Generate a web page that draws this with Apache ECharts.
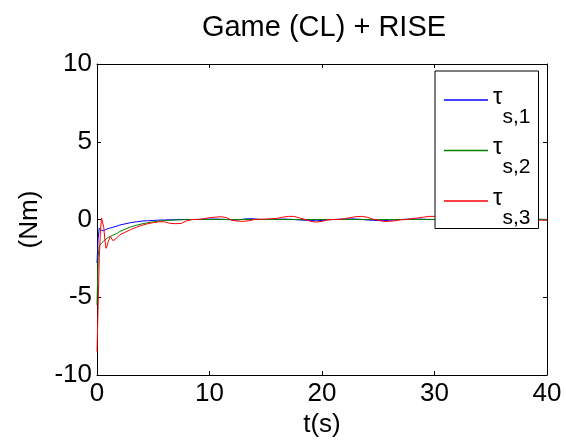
<!DOCTYPE html>
<html>
<head>
<meta charset="utf-8">
<script src="https://cdn.jsdelivr.net/npm/echarts@6/dist/echarts.min.js"></script>
<style>
  html, body { margin: 0; padding: 0; background: #fff; }
  #chart { width: 566px; height: 444px; }
</style>
</head>
<body>
<div id="chart"></div>
<script>
// time samples (s)
const tSec = [
  0, 0.1, 0.2, 0.3, 0.4, 0.5, 0.6, 0.7, 0.8, 0.9, 1, 1.2, 1.4, 1.6, 1.8,
  2, 2.5, 3, 3.5, 4, 4.5, 5, 5.5, 6, 6.5,
  7, 7.5, 8, 8.5, 9, 9.5, 10, 10.5, 11, 11.5,
  12, 12.5, 13, 13.5, 14, 14.5, 15, 15.5, 16, 16.5,
  17, 17.5, 18, 18.5, 19, 19.5, 20, 20.5, 21, 21.5,
  22, 22.5, 23, 23.5, 24, 24.5, 25, 25.5, 26, 26.5,
  27, 27.5, 28, 28.5, 29, 29.5, 30, 30.5, 31, 31.5,
  32, 32.5, 33, 33.5, 34, 34.5, 35, 35.5, 36, 36.5,
  37, 37.5, 38, 38.5, 39, 39.5, 40
];
// tau_s,1
const tauS1 = [
  -2.8, -1.2, -0.55, -0.45, -0.7, -0.8, -0.72, -0.68, -0.64, -0.61, -0.58, -0.54, -0.5, -0.46, -0.42,
  -0.36, -0.28, -0.2, -0.15, -0.1, -0.08, -0.06, -0.04, -0.03, -0.02,
  -0.01, 0, 0, 0, 0.01, 0.02, 0.03, 0.03, 0.02, 0,
  -0.02, -0.03, 0.02, 0.05, 0.04, 0, 0, 0.01, 0.02, 0.03,
  0.02, 0, -0.03, -0.05, -0.07, -0.08, -0.06, -0.02, 0, 0.02,
  0.03, 0.04, 0.03, 0.01, -0.03, -0.05, -0.07, -0.07, -0.05, -0.02,
  0, 0.02, 0.03, 0.03, 0.02, 0.01, 0, 0.02, 0.03, 0.02,
  0, -0.02, -0.03, -0.02, 0, 0.02, 0.03, 0.02, 0, -0.02,
  -0.03, -0.02, 0, 0.02, 0.02, 0.01, 0
];
// tau_s,2
const tauS2 = [
  -5.5, -2.4, -1.7, -1.6, -1.52, -1.45, -1.38, -1.32, -1.26, -1.2, -1.15, -1.08, -1.01, -0.95, -0.89,
  -0.78, -0.62, -0.48, -0.37, -0.28, -0.21, -0.15, -0.1, -0.07, -0.05,
  -0.03, -0.02, -0.01, 0, 0, 0, 0, 0, 0, 0,
  0, 0, 0, 0, 0, 0, 0, 0, 0, 0,
  0, 0, 0, 0, 0, 0, 0, 0, 0, 0,
  0, 0, 0, 0, 0, 0, 0, 0, 0, 0,
  0, 0, 0, 0, 0, 0, 0, 0, 0, 0,
  0, 0, 0, 0, 0, 0, 0, 0, 0, 0,
  0, 0, 0, 0, 0, 0, 0
];
// tau_s,3
const tauS3 = [
  -8.5, -5.5, -2.5, -0.8, 0.1, 0.2, -0.5, -1.3, -1.85, -1.7, -1.4, -1.1, -1.35, -1.3, -1.15,
  -1.0, -0.82, -0.65, -0.5, -0.37, -0.27, -0.2, -0.15, -0.15, -0.25,
  -0.27, -0.25, -0.08, 0, 0, 0.05, 0.12, 0.15, 0.18, 0.12,
  -0.05, -0.1, -0.12, -0.08, 0, 0.02, 0.03, 0.05, 0.07, 0.15,
  0.2, 0.2, 0.1, 0, -0.12, -0.17, -0.12, -0.02, 0, 0,
  0.05, 0.12, 0.18, 0.2, 0.15, 0.03, -0.05, -0.12, -0.12, -0.08,
  -0.02, 0, 0.05, 0.1, 0.15, 0.2, 0.2, 0.12, 0.02, -0.05,
  -0.08, -0.05, 0, 0.05, 0.1, 0.08, 0, -0.05, -0.08, -0.04,
  0, 0.04, 0.06, 0.03, -0.02, -0.05, -0.05
];
const seriesNames = ['s,1', 's,2', 's,3'];
const seriesColors = ['#0000ff', '#008000', '#ff0000'];
const seriesValues = [tauS1, tauS2, tauS3];

const FONT = "'Liberation Sans', Arial, sans-serif";

const chart = echarts.init(document.getElementById('chart'));

const option = {
  animation: false,
  backgroundColor: '#fff',
  title: {
    text: 'Game (CL) + RISE',
    left: 319,
    top: 8,
    textAlign: 'center',
    textStyle: { fontFamily: FONT, fontSize: 29, fontWeight: 'normal', color: '#000' }
  },
  grid: { left: 97, right: 19, top: 64, bottom: 69 },
  legend: {
    left: 435,
    top: 71,
    orient: 'vertical',
    backgroundColor: '#fff',
    borderColor: '#000',
    borderWidth: 1,
    borderRadius: 0,
    padding: [14, 8, 0, 9],
    itemGap: 8,
    itemWidth: 44,
    itemHeight: 1.5,
    icon: 'rect',
    data: seriesNames,
    formatter: function (name) {
      return '{t|τ}{s|' + name + '}';
    },
    textStyle: {
      fontFamily: FONT,
      color: '#000',
      rich: {
        t: { fontFamily: FONT, fontSize: 24, color: '#000', padding: [0, 0, 6, 0] },
        s: { fontFamily: FONT, fontSize: 21, color: '#000', padding: [34, 0, 0, 0] }
      }
    }
  },
  xAxis: [
    {
      type: 'value', min: 0, max: 40, interval: 10,
      name: 't(s)', nameLocation: 'middle', nameGap: 33,
      nameTextStyle: { fontFamily: FONT, fontSize: 26, color: '#000' },
      axisLine: { show: true, onZero: false, lineStyle: { color: '#000', width: 1 } },
      axisTick: { show: true, inside: true, length: 4, lineStyle: { color: '#000' } },
      axisLabel: { fontFamily: FONT, fontSize: 26, color: '#000', margin: 6 },
      splitLine: { show: false }
    },
    {
      type: 'value', min: 0, max: 40, interval: 10, position: 'top',
      axisLine: { show: true, onZero: false, lineStyle: { color: '#000', width: 1 } },
      axisTick: { show: true, inside: true, length: 4, lineStyle: { color: '#000' } },
      axisLabel: { show: false },
      splitLine: { show: false }
    }
  ],
  yAxis: [
    {
      type: 'value', min: -10, max: 10, interval: 5,
      name: '(Nm)', nameLocation: 'middle', nameGap: 54,
      nameTextStyle: { fontFamily: FONT, fontSize: 26, color: '#000' },
      axisLine: { show: true, onZero: false, lineStyle: { color: '#000', width: 1 } },
      axisTick: { show: true, inside: true, length: 4, lineStyle: { color: '#000' } },
      axisLabel: { fontFamily: FONT, fontSize: 26, color: '#000', margin: 5 },
      splitLine: { show: false }
    },
    {
      type: 'value', min: -10, max: 10, interval: 5, position: 'right',
      axisLine: { show: true, onZero: false, lineStyle: { color: '#000', width: 1 } },
      axisTick: { show: true, inside: true, length: 4, lineStyle: { color: '#000' } },
      axisLabel: { show: false },
      splitLine: { show: false }
    }
  ],
  series: seriesNames.map(function (name, k) {
    return {
      name: name,
      type: 'line',
      xAxisIndex: 0,
      yAxisIndex: 0,
      symbol: 'none',
      showSymbol: false,
      color: seriesColors[k],
      lineStyle: { color: seriesColors[k], width: 1 },
      data: tSec.map(function (t, i) { return [t, seriesValues[k][i]]; })
    };
  })
};

chart.setOption(option);
</script>
</body>
</html>
